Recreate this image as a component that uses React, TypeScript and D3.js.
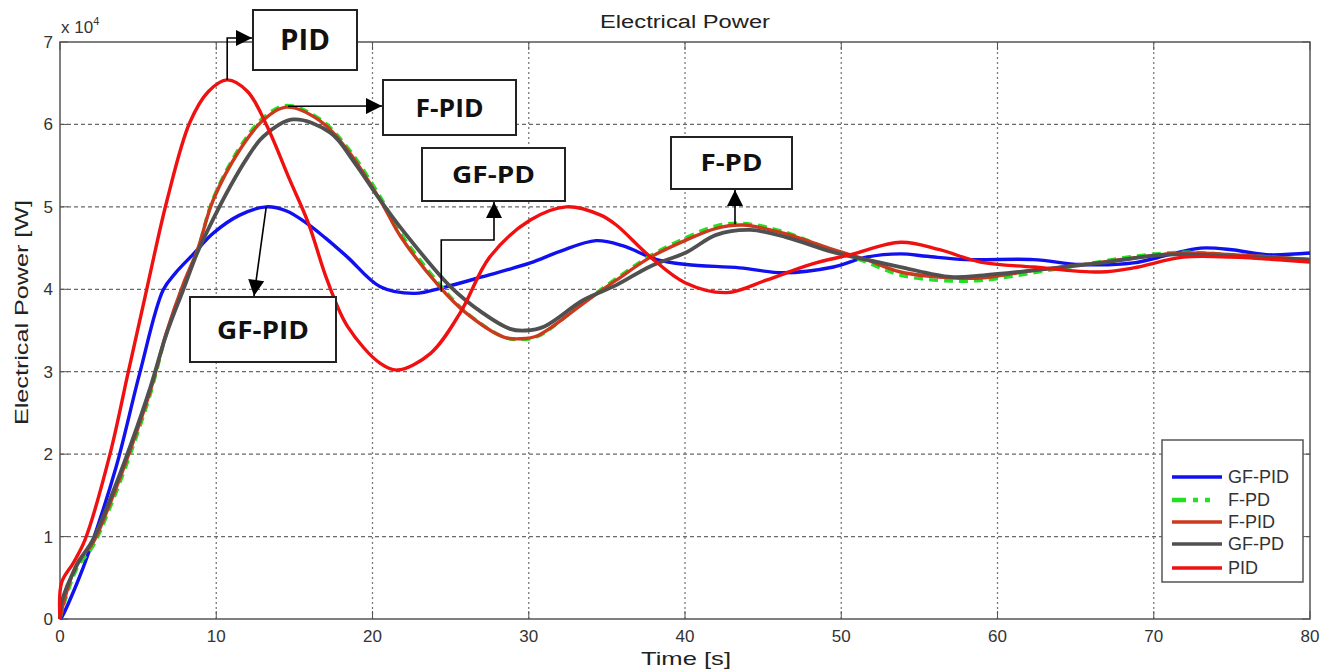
import { useRef, useEffect } from "react";
import * as d3 from "d3";

// values, power in units of 1e4 W
const pidT = [0, 0.1, 0.85, 1.6, 3.2, 4.35, 5.55, 6.85, 8.3, 9.5, 10.7, 12, 13.2, 14.7, 15.9, 17.1, 18.4, 20.5, 21.6, 23.7, 25.6, 27.5, 30.1, 32.4, 34.6, 35.6, 37.8, 40, 42.7, 45.2, 48, 50.6, 53.8, 56.3, 58.9, 62.3, 66.6, 68.7, 71.9, 75, 80];
const pidV = [0, 0.44, 0.68, 0.96, 2.0, 2.98, 4.0, 5.08, 6.02, 6.4, 6.54, 6.4, 6.0, 5.33, 4.8, 4.11, 3.55, 3.1, 3.02, 3.22, 3.71, 4.39, 4.84, 5.0, 4.9, 4.78, 4.39, 4.08, 3.96, 4.11, 4.3, 4.42, 4.57, 4.48, 4.33, 4.27, 4.21, 4.26, 4.39, 4.39, 4.33];

const gfpidT = [0, 0.1, 1.1, 1.9, 3.6, 5.1, 6.6, 7.4, 8.5, 9.8, 11.5, 13.2, 14.5, 15.8, 17, 18.4, 20.5, 22.7, 24.7, 27, 30.1, 32, 34.3, 36, 38.2, 40.1, 43.5, 46.3, 49.5, 51.6, 53.8, 55.5, 58, 62.3, 65.3, 68.7, 71, 73, 75, 77.2, 80];
const gfpidV = [0, 0.02, 0.44, 0.84, 1.85, 2.98, 3.99, 4.2, 4.42, 4.68, 4.9, 5.0, 4.95, 4.8, 4.62, 4.39, 4.03, 3.95, 4.03, 4.15, 4.32, 4.46, 4.59, 4.53, 4.36, 4.3, 4.26, 4.2, 4.27, 4.39, 4.43, 4.4, 4.36, 4.36, 4.3, 4.32, 4.42, 4.5, 4.48, 4.42, 4.44];

const fT = [0, 0.1, 1.1, 2.1, 3.2, 4.5, 5.8, 6.8, 7.9, 8.8, 9.8, 11.5, 13, 14.5, 16.6, 18.4, 20.5, 21.8, 24.3, 26, 28.4, 29.5, 30.6, 33.5, 35.6, 37.8, 40.1, 42, 43.7, 46.3, 49.5, 51.6, 53.8, 57, 59.1, 62.3, 65.5, 68.7, 71.9, 75, 80];
const fpidV = [0, 0.1, 0.68, 0.92, 1.4, 2.05, 2.78, 3.47, 4.07, 4.48, 5.08, 5.69, 6.05, 6.21, 6.05, 5.69, 5.08, 4.64, 4.03, 3.71, 3.42, 3.4, 3.44, 3.83, 4.11, 4.39, 4.6, 4.74, 4.78, 4.68, 4.48, 4.36, 4.21, 4.14, 4.14, 4.23, 4.3, 4.38, 4.44, 4.42, 4.36];
const fpdV = [0, 0.08, 0.62, 0.88, 1.35, 2.0, 2.74, 3.45, 4.05, 4.47, 5.1, 5.72, 6.08, 6.23, 6.07, 5.72, 5.12, 4.68, 4.06, 3.72, 3.42, 3.39, 3.43, 3.84, 4.13, 4.41, 4.63, 4.77, 4.8, 4.7, 4.47, 4.33, 4.17, 4.1, 4.11, 4.2, 4.3, 4.4, 4.45, 4.42, 4.36];

const gfpdT = [0, 0.1, 1.1, 2.1, 3.2, 4.5, 5.8, 6.8, 7.9, 8.8, 9.8, 10.9, 12, 13, 14.9, 17.3, 18.8, 20.5, 22, 25, 27, 28.8, 29.8, 31, 33.5, 35.6, 37.8, 40.1, 42, 44.2, 46.5, 49.5, 51.6, 53.8, 57, 59.1, 62.3, 66.6, 70.8, 75, 80];
const gfpdV = [0, 0.2, 0.66, 0.96, 1.45, 2.1, 2.82, 3.45, 4.0, 4.45, 4.85, 5.25, 5.6, 5.85, 6.06, 5.9, 5.55, 5.08, 4.7, 4.03, 3.72, 3.52, 3.5, 3.55, 3.87, 4.05, 4.28, 4.45, 4.66, 4.72, 4.63, 4.45, 4.36, 4.27, 4.15, 4.17, 4.23, 4.32, 4.42, 4.4, 4.36];

const xTicks = [0, 10, 20, 30, 40, 50, 60, 70, 80];
const yTicks = [0, 1, 2, 3, 4, 5, 6, 7];

const series = [
  { name: "GF-PID", t: gfpidT, v: gfpidV, color: "#1010f0", dash: null },
  { name: "F-PD", t: fT, v: fpdV, color: "#22e022", dash: "9,6" },
  { name: "F-PID", t: fT, v: fpidV, color: "#cc3a1e", dash: null },
  { name: "GF-PD", t: gfpdT, v: gfpdV, color: "#505050", dash: null },
  { name: "PID", t: pidT, v: pidV, color: "#f01010", dash: null },
];

const W = 1331;
const H = 670;
const margin = { top: 42, right: 21, bottom: 51, left: 60 };
const FONT = "'Liberation Sans', Arial, sans-serif";
const BOLD = "'Open Sans', 'DejaVu Sans', sans-serif";

const App = () => {
  const svgRef = useRef<SVGSVGElement>(null);

  useEffect(() => {
    const svg = d3.select(svgRef.current);
    svg.selectAll("*").remove();

    const x = d3.scaleLinear().domain([0, 80]).range([margin.left, W - margin.right]);
    const y = d3.scaleLinear().domain([0, 7]).range([H - margin.bottom, margin.top]);
    const x0 = x(0), x1 = x(80), y0 = y(0), y1 = y(7);

    svg.append("rect").attr("width", W).attr("height", H).attr("fill", "#fff");

    // grid
    svg.selectAll(".gx")
      .data(xTicks.slice(1, -1))
      .enter()
      .append("line")
      .attr("x1", (d) => x(d))
      .attr("x2", (d) => x(d))
      .attr("y1", y0)
      .attr("y2", y1)
      .attr("stroke", "#7a7a7a")
      .attr("stroke-width", 1.3)
      .attr("stroke-dasharray", "2,3");

    svg.selectAll(".gy")
      .data(yTicks.slice(1, -1))
      .enter()
      .append("line")
      .attr("x1", x0)
      .attr("x2", x1)
      .attr("y1", (d) => y(d))
      .attr("y2", (d) => y(d))
      .attr("stroke", "#6a6a6a")
      .attr("stroke-width", 1.2)
      .attr("stroke-dasharray", "4,3");

    // axes box
    svg.append("rect")
      .attr("x", x0).attr("y", y1)
      .attr("width", x1 - x0).attr("height", y0 - y1)
      .attr("fill", "none").attr("stroke", "#555").attr("stroke-width", 1.5);

    // ticks
    xTicks.forEach((d) => {
      svg.append("line").attr("x1", x(d)).attr("x2", x(d)).attr("y1", y0).attr("y2", y0 - 8).attr("stroke", "#555");
      svg.append("line").attr("x1", x(d)).attr("x2", x(d)).attr("y1", y1).attr("y2", y1 + 8).attr("stroke", "#555");
    });
    yTicks.forEach((d) => {
      svg.append("line").attr("x1", x0).attr("x2", x0 + 8).attr("y1", y(d)).attr("y2", y(d)).attr("stroke", "#555");
      svg.append("line").attr("x1", x1).attr("x2", x1 - 8).attr("y1", y(d)).attr("y2", y(d)).attr("stroke", "#555");
    });

    svg.selectAll(".xl")
      .data(xTicks)
      .enter()
      .append("text")
      .attr("x", (d) => x(d))
      .attr("y", y0 + 23)
      .attr("text-anchor", "middle")
      .style("font-family", FONT)
      .style("font-size", "17px")
      .style("fill", "#333")
      .text((d) => d);

    svg.selectAll(".yl")
      .data(yTicks)
      .enter()
      .append("text")
      .attr("x", x0 - 7)
      .attr("y", (d) => y(d) + 6)
      .attr("text-anchor", "end")
      .style("font-family", FONT)
      .style("font-size", "17px")
      .style("fill", "#333")
      .text((d) => d);

    const exp = svg.append("text")
      .attr("x", x0 + 1).attr("y", y1 - 9)
      .style("font-family", FONT).style("font-size", "17px").style("fill", "#333");
    exp.append("tspan").text("x 10");
    exp.append("tspan").attr("dy", -8).style("font-size", "11px").text("4");

    svg.append("text")
      .attr("x", 600).attr("y", 28)
      .attr("textLength", 170).attr("lengthAdjust", "spacingAndGlyphs")
      .style("font-family", FONT).style("font-size", "18px").style("fill", "#222")
      .text("Electrical Power");

    svg.append("text")
      .attr("x", 641).attr("y", 665)
      .attr("textLength", 90).attr("lengthAdjust", "spacingAndGlyphs")
      .style("font-family", FONT).style("font-size", "19px").style("fill", "#222")
      .text("Time [s]");

    svg.append("text")
      .attr("transform", `translate(28,425) rotate(-90)`)
      .attr("textLength", 225).attr("lengthAdjust", "spacingAndGlyphs")
      .style("font-family", FONT).style("font-size", "18px").style("fill", "#222")
      .text("Electrical Power [W]");

    // curves
    const line = d3.line<[number, number]>()
      .x((d) => x(d[0]))
      .y((d) => y(d[1]))
      .curve(d3.curveCatmullRom.alpha(0.5));

    series.forEach((s) => {
      const pts = s.t.map((t, i) => [t, s.v[i]] as [number, number]);
      svg.append("path")
        .datum(pts)
        .attr("fill", "none")
        .attr("stroke", s.color)
        .attr("stroke-width", s.name === "GF-PD" ? 3.8 : 3.4)
        .attr("stroke-dasharray", s.dash)
        .attr("stroke-linejoin", "round")
        .attr("d", line);
    });

    // annotations
    const defs = svg.append("defs");
    defs.append("marker")
      .attr("id", "ah")
      .attr("viewBox", "0 0 10 10")
      .attr("refX", 10).attr("refY", 5)
      .attr("markerWidth", 18).attr("markerHeight", 16)
      .attr("markerUnits", "userSpaceOnUse")
      .attr("orient", "auto")
      .append("path").attr("d", "M0,0L10,5L0,10Z").attr("fill", "#000");

    const ann = svg.append("g");
    const arrow = (pts: [number, number][]) => {
      ann.append("path")
        .attr("d", d3.line()(pts))
        .attr("fill", "none")
        .attr("stroke", "#000")
        .attr("stroke-width", 1.6)
        .attr("marker-end", "url(#ah)");
    };

    const box = (bx: number, by: number, bw: number, bh: number, label: string, fs: number, tw: number) => {
      ann.append("rect")
        .attr("x", bx).attr("y", by).attr("width", bw).attr("height", bh)
        .attr("fill", "#fff").attr("stroke", "#222").attr("stroke-width", 2);
      ann.append("text")
        .attr("x", bx + (bw - tw) / 2).attr("y", by + bh / 2 + fs * 0.36)
        .attr("textLength", tw).attr("lengthAdjust", "spacingAndGlyphs")
        .style("font-family", BOLD).style("font-weight", 700)
        .style("font-size", `${fs}px`).style("fill", "#111")
        .text(label);
    };

    // PID
    arrow([[x(10.7), y(6.54)], [x(10.7), 38], [252, 38]]);
    box(253, 10, 104, 60, "PID", 28, 50);
    // F-PID
    arrow([[x(14.6), y(6.22)], [382, 106]]);
    box(383, 80, 133, 55, "F-PID", 25, 68);
    // GF-PD
    arrow([[x(24.4), y(3.97)], [x(24.4), 240], [494, 240], [494, 202]]);
    box(422, 148, 143, 53, "GF-PD", 23, 83);
    // F-PD
    arrow([[x(43.2), y(4.79)], [x(43.2), 190]]);
    box(671, 137, 121, 52, "F-PD", 23, 62);
    // GF-PID
    arrow([[x(13.2), y(5.0)], [254, 296]]);
    box(190, 297, 146, 65, "GF-PID", 25, 92);

    // legend
    const lg = svg.append("g");
    lg.append("rect")
      .attr("x", 1162).attr("y", 440).attr("width", 141).attr("height", 142)
      .attr("fill", "#fff").attr("stroke", "#555").attr("stroke-width", 1.5);
    const rows = [477, 500, 522, 544, 568];
    series.forEach((s, i) => {
      lg.append("line")
        .attr("x1", 1172).attr("x2", 1222)
        .attr("y1", rows[i]).attr("y2", rows[i])
        .attr("stroke", s.color)
        .attr("stroke-width", s.name === "F-PD" ? 4.5 : 3.5)
        .attr("stroke-dasharray", s.dash ? "14,7,5,7,5" : null);
      lg.append("text")
        .attr("x", 1228).attr("y", rows[i] + 6)
        .style("font-family", FONT).style("font-size", "18px").style("fill", "#333")
        .text(s.name);
    });
  }, []);

  return (
    <div style={{ position: "absolute", left: 0, top: 0 }}>
      <svg ref={svgRef} width={W} height={H}></svg>
    </div>
  );
};

export default App;
